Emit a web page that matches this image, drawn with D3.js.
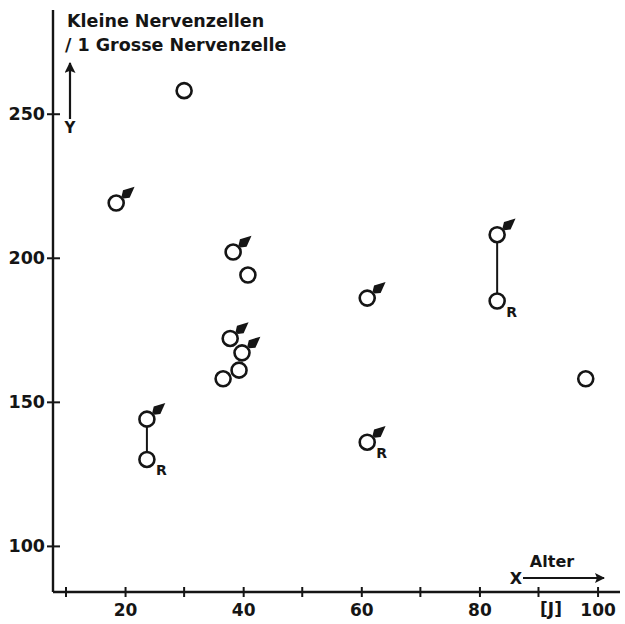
<!DOCTYPE html>
<html>
<head>
<meta charset="utf-8">
<script src="https://cdn.jsdelivr.net/npm/d3@7"></script>
<style>
  body { margin: 0; background: #fff; }
  text { font-family: "DejaVu Sans", sans-serif; font-weight: bold; fill: #151515; }
</style>
</head>
<body>
<div id="chart"></div>
<script>
// Alter [J] of each case
const ages = [30, 18.5, 38.3, 40.8, 37.8, 39.8, 39.3, 36.6, 23.7, 23.7, 61, 61, 83, 83, 98]
// Kleine Nervenzellen / 1 Grosse Nervenzelle
const values = [258, 219, 202, 194, 172, 167, 161, 158, 144, 130, 186, 136, 208, 185, 158]
// male symbol drawn on the marker
const male = [0, 1, 1, 0, 1, 1, 0, 0, 1, 0, 1, 1, 1, 0, 0]
// marked with "R"
const rMark = [0, 0, 0, 0, 0, 0, 0, 0, 0, 1, 0, 1, 0, 1, 0]
// pairs of points joined by a line (indices)
const links = [[8, 9], [12, 13]]

const xTicks = [20, 40, 60, 80, 100]
const xMinor = [10, 30, 50, 70, 90]
const yTicks = [100, 150, 200, 250]

const W = 625, H = 624
const ink = '#151515'
const svg = d3.select('#chart').append('svg').attr('width', W).attr('height', H)

const x = d3.scaleLinear().domain([7.8, 103.8]).range([53, 620])
const y = d3.scaleLinear().domain([84, 286]).range([592, 10])

/* Axes */
const xAxis = svg.append('g').attr('transform', `translate(0,${y(84)})`)
xAxis.call(d3.axisBottom(x).tickValues(xTicks).tickSize(5).tickFormat(d3.format('d')))
xAxis.select('.domain').remove()
xAxis.append('line').attr('x1', x(7.8)).attr('x2', x(103.8)).attr('stroke', ink).attr('stroke-width', 2.4)
xAxis.selectAll('.tick line').attr('y1', -5).attr('y2', 5).attr('stroke', ink).attr('stroke-width', 2)
xAxis.selectAll('.tick text').attr('font-size', 17).attr('font-family', 'DejaVu Sans')
  .attr('font-weight', 'bold').attr('fill', ink).attr('y', 24).attr('dy', 0)
xAxis.selectAll('.minor').data(xMinor).enter().append('line')
  .attr('x1', d => x(d)).attr('x2', d => x(d)).attr('y1', -5).attr('y2', 5)
  .attr('stroke', ink).attr('stroke-width', 2)

const yAxis = svg.append('g').attr('transform', `translate(${x(7.8)},0)`)
yAxis.call(d3.axisLeft(y).tickValues(yTicks).tickSize(6).tickPadding(2).tickFormat(d3.format('d')))
yAxis.select('.domain').remove()
yAxis.append('line').attr('y1', y(84)).attr('y2', y(286)).attr('stroke', ink).attr('stroke-width', 2.4)
yAxis.selectAll('.tick line').attr('x1', -6).attr('x2', 7).attr('stroke', ink).attr('stroke-width', 2)
yAxis.selectAll('.tick text').attr('font-size', 17.5).attr('font-family', 'DejaVu Sans')
  .attr('font-weight', 'bold').attr('fill', ink)

/* Axis titles */
svg.append('text').attr('x', 67).attr('y', 27).attr('font-size', 17.5).text('Kleine  Nervenzellen')
svg.append('text').attr('x', 65).attr('y', 51).attr('font-size', 17.5).text('/ 1 Grosse  Nervenzelle')

svg.append('defs').append('marker').attr('id', 'ah').attr('viewBox', '0 0 10 10')
  .attr('refX', 9).attr('refY', 5).attr('markerWidth', 5).attr('markerHeight', 5).attr('orient', 'auto')
  .append('path').attr('d', 'M0,0 L10,5 L0,10 L2,5 Z').attr('fill', ink)

svg.append('line').attr('x1', 70).attr('x2', 70).attr('y1', 119).attr('y2', 63)
  .attr('stroke', ink).attr('stroke-width', 2.2).attr('marker-end', 'url(#ah)')
svg.append('text').attr('x', 70).attr('y', 133).attr('text-anchor', 'middle').attr('font-size', 15).text('Y')

svg.append('text').attr('x', 516).attr('y', 584).attr('text-anchor', 'middle').attr('font-size', 16).text('X')
svg.append('line').attr('x1', 523).attr('x2', 604).attr('y1', 578).attr('y2', 578)
  .attr('stroke', ink).attr('stroke-width', 2).attr('marker-end', 'url(#ah)')
svg.append('text').attr('x', 552).attr('y', 567).attr('text-anchor', 'middle').attr('font-size', 16).text('Alter')
svg.append('text').attr('x', 551).attr('y', 615).attr('text-anchor', 'middle').attr('font-size', 17).text('[J]')

/* Data */
const pts = ages.map((a, i) => ({ age: a, v: values[i], male: male[i], r: rMark[i] }))
const R = 7.5

svg.append('g').selectAll('line').data(links).enter().append('line')
  .attr('x1', d => x(pts[d[0]].age)).attr('x2', d => x(pts[d[1]].age))
  .attr('y1', d => y(pts[d[0]].v)).attr('y2', d => y(pts[d[1]].v))
  .attr('stroke', ink).attr('stroke-width', 2)

const g = svg.append('g').selectAll('g').data(pts).enter().append('g')
  .attr('transform', d => `translate(${x(d.age)},${y(d.v)})`)

g.append('circle').attr('r', R).attr('fill', '#fff').attr('stroke', ink).attr('stroke-width', 2.6)

// male symbol: wedge-shaped arrow pointing up-right from the circle
const ang = -Math.PI * 0.23
const c = Math.cos(ang), s = Math.sin(ang)
g.filter(d => d.male).append('path')
  .attr('d', () => {
    const tip = [(R + 17) * c, (R + 17) * s]
    const base = [(R + 1) * c, (R + 1) * s]
    const mid = [(R + 6) * c, (R + 6) * s]
    const px = -s, py = c
    return `M${tip[0]},${tip[1]}` +
      `L${mid[0] + px * 5},${mid[1] + py * 5}` +
      `L${base[0] + px * 1.5},${base[1] + py * 1.5}` +
      `L${base[0] - px * 1.5},${base[1] - py * 1.5}` +
      `L${mid[0] - px * 5},${mid[1] - py * 5}Z`
  })
  .attr('fill', ink)

g.filter(d => d.r).append('text').attr('x', 9).attr('y', 16)
  .attr('font-size', 14).text('R')
</script>
</body>
</html>
